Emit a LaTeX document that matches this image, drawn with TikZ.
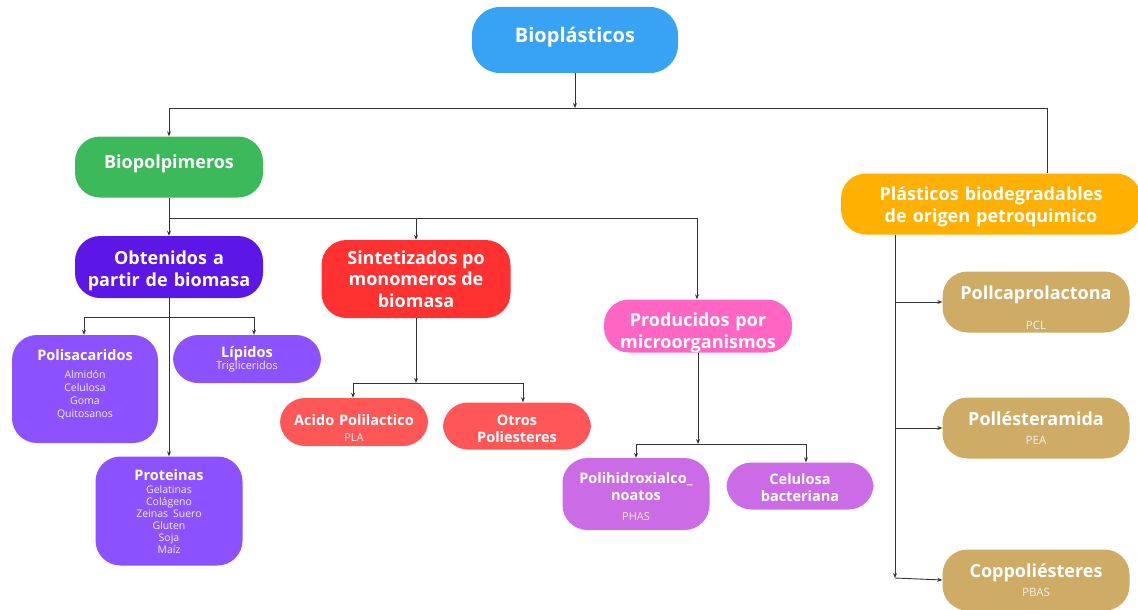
\documentclass[tikz,border=0pt]{standalone}
\usepackage{fontspec}
\setmainfont{Open Sans}
\usepackage{tikz}
\usetikzlibrary{arrows.meta}

\definecolor{cblue}{HTML}{38A3F5}
\definecolor{cgreen}{HTML}{3CB95B}
\definecolor{cviolet}{HTML}{5C17E6}
\definecolor{cpurple}{HTML}{8C52FF}
\definecolor{cred}{HTML}{FF3131}
\definecolor{clightred}{HTML}{FF5757}
\definecolor{cpink}{HTML}{FF66C4}
\definecolor{corchid}{HTML}{CB6CE6}
\definecolor{corange}{HTML}{FFB000}
\definecolor{ctan}{HTML}{CEAC66}

% small text under the titles
\newcommand{\subtxt}{\fontsize{11}{13}\selectfont\mdseries\color{white!88!gray}}

\begin{document}
\begin{tikzpicture}[x=1pt, y=-1pt, >={Stealth[length=5pt,width=4pt]},
  box/.style={rounded corners=25pt, text=white, align=center, inner sep=2pt,
    font=\fontsize{18}{21.5}\selectfont\bfseries},
  smallbox/.style={box, font=\fontsize{14.5}{17}\selectfont\bfseries},
  link/.style={draw=black!80, line width=0.9pt}]
  \useasboundingbox (0,0) rectangle (1138,610);

  % top level
  \node[box, fill=cblue, minimum width=206, minimum height=66, rounded corners=28pt, text width=196,
    font=\fontsize{20}{24}\selectfont\bfseries] (bio) at (575,40) {Bioplásticos\par\vspace{6pt}};
  \node[box, fill=cgreen, minimum width=188, minimum height=61, text width=178] (biopol) at (169,167)
    {Biopolpimeros\par\vspace{6pt}};
  \node[box, fill=corange, minimum width=300, minimum height=61, text width=290] (petro) at (991,204)
    {Plásticos biodegradables\\de origen petroquimico\par\vspace{-6pt}};

  % biopolimeros branches
  \node[box, fill=cviolet, minimum width=188, minimum height=62, text width=178] (obt) at (169,267)
    {Obtenidos a\\partir de biomasa\par\vspace{-8pt}};
  \node[box, fill=cred, minimum width=189, minimum height=78] (sint) at (416,279) {Sintetizados po\\monomeros de\\biomasa};
  \node[box, fill=cpink, minimum width=188, minimum height=53, text width=178] (prod) at (698,326)
    {Producidos por\\microorganismos\par\vspace{-14pt}};

  % obtenidos a partir de biomasa
  \node[smallbox, fill=cpurple, minimum width=146, minimum height=108, text width=136] (polis) at (85,389)
    {Polisacaridos\par\vspace{5pt}{\subtxt\fontsize{10.5}{13}\selectfont Almidón\\Celulosa\\Goma\\Quitosanos\par}\vspace{10pt}};
  \node[smallbox, fill=cpurple, minimum width=148, minimum height=48, text width=138] (lip) at (247,359)
    {Lípidos\par\vspace{-1pt}{\subtxt Trigliceridos\par}};
  \node[smallbox, fill=cpurple, minimum width=147, minimum height=109, text width=137] (prot) at (169,511)
    {Proteinas\par\vspace{1pt}{\subtxt\fontsize{10.5}{12}\selectfont Gelatinas\\Colágeno\\Zeinas Suero\\Gluten\\Soja\\Maíz\par}\vspace{-2pt}};

  % sintetizados
  \node[smallbox, fill=clightred, minimum width=148, minimum height=48, text width=138] (pla) at (354,422)
    {Acido Polilactico\par\vspace{3pt}{\subtxt PLA\par}\vspace{-12pt}};
  \node[smallbox, fill=clightred, minimum width=148, minimum height=47, text width=138] (otros) at (517,426)
    {Otros\\Poliesteres\par\vspace{-6pt}};

  % producidos por microorganismos
  \node[smallbox, fill=corchid, minimum width=147, minimum height=72, text width=137] (pha) at (636,494)
    {Polihidroxialco\_\\noatos\par\vspace{7pt}{\subtxt PHAS\par}\vspace{-6pt}};
  \node[smallbox, fill=corchid, minimum width=147, minimum height=47, text width=137] (celb) at (800,486)
    {Celulosa\\bacteriana\par\vspace{-4pt}};

  % petroquimicos
  \node[box, fill=ctan, minimum width=187, minimum height=61, text width=177] (pcl) at (1036,302)
    {Pollcaprolactona\par\vspace{17pt}{\subtxt\fontsize{11.5}{13}\selectfont PCL\par}\vspace{-12pt}};
  \node[box, fill=ctan, minimum width=187, minimum height=61, text width=177] (pea) at (1036,428)
    {Pollésteramida\par\vspace{6pt}{\subtxt\fontsize{11.5}{13}\selectfont PEA\par}};
  \node[box, fill=ctan, minimum width=187, minimum height=61, text width=177] (pbas) at (1036,580)
    {Coppoliésteres\par\vspace{6pt}{\subtxt\fontsize{11.5}{13}\selectfont PBAS\par}};

  % junctions
  \coordinate (tm) at (575,108);
  \coordinate (tl) at (169,108);
  \coordinate (tr) at (1047,108);
  \coordinate (bl) at (169,218);
  \coordinate (bm) at (416,218);
  \coordinate (br) at (697,218);
  \coordinate (ol) at (84,317);
  \coordinate (or) at (254,317);
  \coordinate (sm) at (416,383);
  \coordinate (sl) at (353,383);
  \coordinate (sr) at (523,383);
  \coordinate (pm) at (698,444);
  \coordinate (pl) at (636,444);
  \coordinate (pr) at (806,444);
  \coordinate (pv) at (895,578);

  % connectors
  \draw[link, ->] (bio.south) -- (tm);
  \draw[link] (tl) -- (tr) -- (tr |- petro.north);
  \draw[link, ->] (tl) -- (biopol.north);

  \draw[link] (biopol.south) -- (bl) -- (br);
  \draw[link, ->] (bl) -- (obt.north);
  \draw[link, ->] (bm) -- (sint.north);
  \draw[link, ->] (br) -- (br |- prod.north);

  \draw[link, ->] (obt.south) -- (prot.north);
  \draw[link] (ol) -- (or);
  \draw[link, ->] (ol) -- (ol |- polis.north);
  \draw[link, ->] (or) -- (or |- lip.north);

  \draw[link, ->] (sint.south) -- (sm);
  \draw[link] (sl) -- (sr);
  \draw[link, ->] (sl) -- (sl |- pla.north);
  \draw[link, ->] (sr) -- (sr |- otros.north);

  \draw[link, ->] (prod.south) -- (pm);
  \draw[link] (pl) -- (pr);
  \draw[link, ->] (pl) -- (pl |- pha.north);
  \draw[link, ->] (pr) -- (pr |- celb.north);

  \draw[link, ->] (pv |- petro.south) -- (pv);
  \draw[link, ->] (pv |- pcl.west) -- (pcl.west);
  \draw[link, ->] (pv |- pea.west) -- (pea.west);
  \draw[link, ->] (pv) -- (pbas.west);
\end{tikzpicture}
\end{document}
